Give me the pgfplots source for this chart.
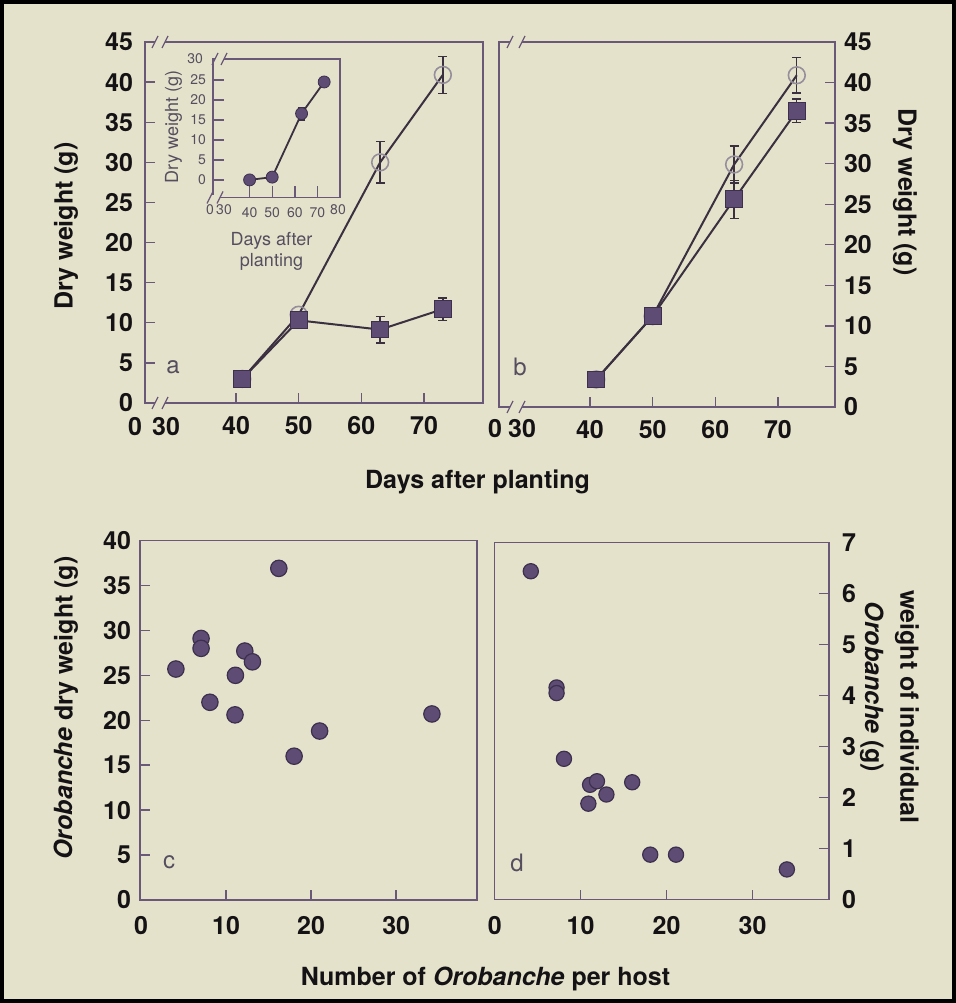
\documentclass[border=0pt]{standalone}
\usepackage{pgfplots}
\pgfplotsset{compat=1.18}
\usepackage{fontspec}
\setmainfont{TeX Gyre Heros}
\definecolor{bgc}{RGB}{229,226,204}
\definecolor{axc}{RGB}{106,88,120}
\definecolor{mkf}{RGB}{94,76,116}
\definecolor{mkd}{RGB}{60,48,78}
\definecolor{lnc}{RGB}{58,48,64}
\definecolor{txc}{RGB}{20,18,20}
\definecolor{ins}{RGB}{85,78,95}
\definecolor{opc}{RGB}{150,142,155}
\newcommand{\fbig}{\fontsize{12.5}{14}\selectfont}
\newcommand{\brk}[3]{%
  \fill[bgc] (#1,#3-1.2pt) rectangle (#2,#3+1.2pt);
  \draw[axc, line width=0.6pt] (#1-1.5pt,#3-3pt) -- (#1+1.5pt,#3+3pt);
  \draw[axc, line width=0.6pt] (#2-1.5pt,#3-3pt) -- (#2+1.5pt,#3+3pt);
}
\pgfplotsset{
  panel/.style={scale only axis, anchor=south west, clip=false,
    axis line style={axc, line width=0.7pt},
    tick style={axc, line width=0.7pt},
    tick align=inside, major tick length=5pt,
    ticklabel style={font=\fbig\bfseries, text=txc},
    /pgf/number format/assume math mode=true,
    xtick pos=bottom},
  sq/.style={lnc, line width=1pt, mark=square*, mark size=4.2pt,
    mark options={draw=mkd, fill=mkf, line width=0.5pt},
    error bars/.cd, y dir=both, y explicit,
    error bar style={lnc, line width=0.7pt},
    error mark options={lnc, rotate=90, mark size=2.2pt, line width=0.7pt}},
  oc/.style={lnc, line width=1pt, mark=o, mark size=4.2pt,
    mark options={draw=opc, line width=0.8pt},
    error bars/.cd, y dir=both, y explicit,
    error bar style={lnc, line width=0.7pt},
    error mark options={lnc, rotate=90, mark size=2.2pt, line width=0.7pt}},
  dot/.style={only marks, mark=*, mark size=4.1pt,
    mark options={draw=mkd, fill=mkf, line width=0.6pt}}
}
\begin{document}
\begin{tikzpicture}[text=txc]
\useasboundingbox (0,0) rectangle (478pt,501.5pt);
\fill[bgc] (0,0) rectangle (478pt,501.5pt);

% ---------------- panel a
\begin{axis}[panel, at={(72.5pt,300pt)}, width=169pt, height=180.5pt,
  xmin=25.48, xmax=79.41, ymin=0, ymax=45,
  xtick={40,50,60,70}, xticklabels={40,50,60,70},
  xticklabel style={yshift=-3.3pt},
  ytick={0,5,10,15,20,25,30,35,40,45},
  yticklabels={0,5,10,15,20,25,30,35,40,45},
  ytick pos=left, yticklabel style={xshift=-2.5pt}]
\addplot[oc] coordinates {(41,3.0) +- (0,0) (50,11.0) +- (0,0) (63,30.0) +- (0,2.6) (73,40.9) +- (0,2.3)};
\addplot[sq] coordinates {(41,3.0) +- (0,0) (50,10.3) +- (0,1.0) (63,9.15) +- (0,1.65) (73,11.7) +- (0,1.4)};
\end{axis}

% ---------------- inset
\begin{axis}[panel, at={(106.5pt,402.75pt)}, width=63.5pt, height=69.25pt,
  xmin=23.8, xmax=80, ymin=-4.4, ymax=30.25,
  axis line style={axc, line width=0.6pt},
  tick style={axc, line width=0.7pt}, major tick length=5.5pt,
  ticklabel style={font=\fontsize{7}{8}\selectfont\mdseries, text=ins},
  xtick={40,50,60,70}, xticklabels={40,50,60,70},
  xticklabel style={yshift=-1.5pt},
  ytick={0,5,10,15,20,25}, yticklabels={0,5,10,15,20,25},
  ytick pos=left]
\addplot[lnc, line width=0.9pt, mark=*, mark size=3pt,
  mark options={draw=mkd, fill=mkf, line width=0.4pt},
  error bars/.cd, y dir=both, y explicit,
  error bar style={lnc, line width=0.6pt},
  error mark options={lnc, rotate=90, mark size=1.8pt, line width=0.6pt}]
  coordinates {(40,0) +- (0,0) (50,0.7) +- (0,0) (63,16.6) +- (0,1.6) (73,24.5) +- (0,0.5)};
\end{axis}

% ---------------- panel b
\begin{axis}[panel, at={(249.5pt,298pt)}, width=168pt, height=182.5pt,
  xmin=25.48, xmax=79.1, ymin=0, ymax=45,
  xtick={40,50,60,70}, xticklabels={40,50,60,70},
  xticklabel style={yshift=-3.3pt},
  ytick={0,5,10,15,20,25,30,35,40,45},
  yticklabels={0,5,10,15,20,25,30,35,40,45},
  ytick pos=right, yticklabel style={xshift=1pt}]
\addplot[oc] coordinates {(41,3.4) +- (0,0) (50,11.2) +- (0,0) (63,29.9) +- (0,2.3) (73,40.9) +- (0,2.2)};
\addplot[sq] coordinates {(41,3.4) +- (0,0) (50,11.2) +- (0,0) (63,25.6) +- (0,2.35) (73,36.5) +- (0,1.45)};
\end{axis}

% ---------------- panel c
\begin{axis}[panel, at={(70pt,51.5pt)}, width=168.5pt, height=179.75pt,
  xmin=-0.12, xmax=39.5, ymin=0, ymax=40,
  xtick={10,20,30}, xticklabels={10,20,30},
  extra x ticks={0}, extra x tick labels={0},
  extra x tick style={major tick length=0pt},
  xticklabel style={yshift=-4.8pt},
  ytick={0,5,10,15,20,25,30,35,40},
  yticklabels={0,5,10,15,20,25,30,35,40},
  ytick pos=left, yticklabel style={xshift=-1pt}]
\addplot[dot] coordinates {(16.2,36.9) (7.06,29.1) (7.06,28.0) (4.1,25.7) (12.2,27.7) (13.1,26.5) (11.1,25.0) (8.1,22.0) (11.05,20.6) (21.0,18.8) (18.0,16.0) (34.2,20.7)};
\end{axis}

% ---------------- panel d
\begin{axis}[panel, at={(247.35pt,51.75pt)}, width=167.15pt, height=178.4pt,
  xmin=0, xmax=38.9, ymin=0, ymax=7,
  xtick={10,20,30}, xticklabels={10,20,30},
  extra x ticks={0}, extra x tick labels={0},
  extra x tick style={major tick length=0pt},
  xticklabel style={yshift=-4.8pt},
  ytick={0,1,2,3,4,5,6,7},
  yticklabels={0,1,2,3,4,5,6,7},
  ytick pos=right, yticklabel style={xshift=3pt}]
\addplot[dot, mark size=3.8pt] coordinates {(4.2,6.44) (7.2,4.16) (7.2,4.05) (8.06,2.76) (11.1,2.25) (11.9,2.32) (13.0,2.06) (10.9,1.88) (16.0,2.30) (18.1,0.88) (21.1,0.88) (34.0,0.59)};
\end{axis}

% axis breaks
\brk{77.5pt}{82.5pt}{480.5pt}
\brk{77.5pt}{82.5pt}{300pt}
\brk{255pt}{261pt}{480.5pt}
\brk{255pt}{261pt}{298pt}
\brk{107.5pt}{112pt}{472pt}
\brk{105pt}{110pt}{402.75pt}

% "0 30" labels on the broken axes
\node[font=\fbig\bfseries] at (67.5pt,288.3pt) {0};
\node[font=\fbig\bfseries] at (83pt,288.3pt) {30};
\node[font=\fbig\bfseries] at (247.5pt,287.3pt) {0};
\node[font=\fbig\bfseries] at (261pt,287.3pt) {30};
\node[font=\fontsize{7}{8}\selectfont, text=ins] at (105pt,396.5pt) {0};
\node[font=\fontsize{7}{8}\selectfont, text=ins] at (112pt,396.5pt) {30};
\node[font=\fontsize{7}{8}\selectfont, text=ins] at (169pt,396.5pt) {80};
\node[font=\fontsize{7}{8}\selectfont, text=ins, anchor=east] at (105pt,472pt) {30};

% inset labels
\node[rotate=90, font=\fontsize{9}{10}\selectfont, text=ins] at (86.75pt,438pt) {Dry weight (g)};
\node[align=center, font=\fontsize{9}{10.5}\selectfont, text=ins] at (135.75pt,375.75pt) {Days after\\planting};

% panel letters
\node[font=\fontsize{12}{14}\selectfont, text=ins] at (86.5pt,318pt) {a};
\node[font=\fontsize{12}{14}\selectfont, text=ins] at (260pt,318pt) {b};
\node[font=\fontsize{12}{14}\selectfont, text=ins] at (84.5pt,70.5pt) {c};
\node[font=\fontsize{12}{14}\selectfont, text=ins] at (258.5pt,70pt) {d};

% axis titles
\node[rotate=90, font=\fbig\bfseries] at (33pt,388.5pt) {Dry weight (g)};
\node[rotate=-90, font=\fbig\bfseries] at (452.5pt,405.5pt) {Dry weight (g)};
\node[anchor=base, font=\fbig\bfseries] at (238.75pt,257pt) {Days after planting};
\node[rotate=90, font=\fbig\bfseries] at (33pt,147.5pt) {\textit{Orobanche} dry weight (g)};
\node[rotate=-90, font=\fbig\bfseries] at (453.5pt,148pt) {weight of individual};
\node[rotate=-90, font=\fbig\bfseries] at (436pt,158pt) {\textit{Orobanche} (g)};
\node[anchor=base, font=\fbig\bfseries] at (242.75pt,9pt) {Number of \textit{Orobanche} per host};

\draw[black, line width=2pt] (1pt,1pt) rectangle (477pt,500.5pt);
\end{tikzpicture}
\end{document}
